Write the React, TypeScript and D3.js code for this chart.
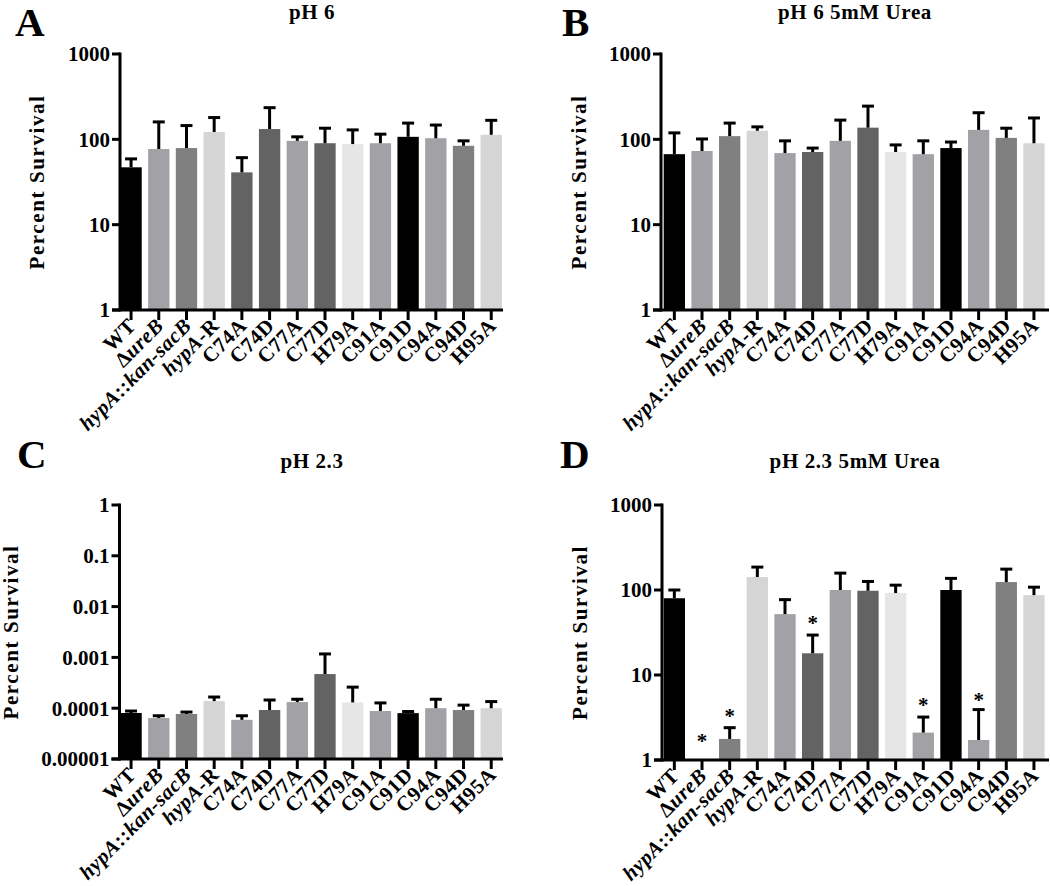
import React from "react";
import * as d3 from "d3";

// ---------- data ----------
const categories = [
  "WT", "ΔureB", "hypA::kan-sacB", "hypA-R", "C74A", "C74D", "C77A",
  "C77D", "H79A", "C91A", "C91D", "C94A", "C94D", "H95A",
];

// Panel A: pH 6
const meanA = [47, 77, 79, 122, 41, 132, 96, 90, 88, 90, 107, 103, 84, 113];
const semA = [12, 83, 66, 58, 20, 103, 11, 45, 41, 25, 48, 44, 12, 54];

// Panel B: pH 6 5mM Urea
const meanB = [67, 73, 109, 126, 69, 71, 96, 137, 71, 67, 79, 129, 104, 90];
const semB = [52, 28, 46, 14, 27, 8, 72, 108, 15, 29, 14, 76, 31, 88];

// Panel C: pH 2.3
const meanC = [8.05e-5, 6.4e-5, 7.7e-5, 1.38e-4, 5.9e-5, 9.2e-5, 1.32e-4, 4.7e-4, 1.3e-4, 8.8e-5, 8.0e-5, 1.0e-4, 9.2e-5, 1.0e-4];
const semC = [0.75e-5, 0.7e-5, 0.7e-5, 2.8e-5, 1.2e-5, 5.3e-5, 1.8e-5, 7.0e-4, 1.3e-4, 3.9e-5, 0.6e-5, 5.0e-5, 2.3e-5, 3.5e-5];

// Panel D: pH 2.3 5mM Urea
const meanD = [80, null, 1.77, 142, 52, 18, 100, 98, 92, 2.1, 100, 1.72, 124, 87];
const semD = [20, null, 0.63, 44, 25, 11.5, 58, 28, 22, 1.1, 37, 2.2, 52, 21];
// significance stars (data-unit height at which the star sits)
const starD = [null, 1.92, 3.77, null, null, 46.9, null, null, null, 5.08, null, 5.8, null, null];

const ticksLin = [1, 10, 100, 1000];
const tickLabelsLin = ["1", "10", "100", "1000"];
const ticksAcid = [1e-5, 1e-4, 1e-3, 1e-2, 1e-1, 1];
const tickLabelsAcid = ["0.00001", "0.0001", "0.001", "0.01", "0.1", "1"];

const fillsStd = ["#000000", "#a2a2a6", "#808080", "#d5d5d5", "#a2a2a6", "#636363", "#a2a2a6", "#636363", "#e6e6e6", "#a2a2a6", "#000000", "#a2a2a6", "#808080", "#d5d5d5"];
const fillsA = ["#000000", "#a2a2a6", "#808080", "#d5d5d5", "#636363", "#636363", "#a2a2a6", "#636363", "#e6e6e6", "#a2a2a6", "#000000", "#a2a2a6", "#808080", "#d5d5d5"];

const FONT = "'Liberation Serif', 'Times New Roman', serif";

type PanelCfg = {
  letter: string;
  title: string;
  means: (number | null)[];
  sems: (number | null)[];
  stars?: (number | null)[];
  fills: string[];
  domain: [number, number];
  ticks: number[];
  tickLabels: string[];
  axisX: number;
  top: number;
  base: number;
  xEnd: number;
  band: [number, number];
  titleX: number;
  titleY: number;
  letterX: number;
  letterY: number;
  ylabX: number;
};

const panels: PanelCfg[] = [
  {
    letter: "A", title: "pH 6", means: meanA, sems: semA, fills: fillsA,
    domain: [1, 1000], ticks: ticksLin, tickLabels: tickLabelsLin,
    axisX: 120, top: 54, base: 310, xEnd: 503, band: [120.4, 501.9],
    titleX: 312, titleY: 19, letterX: 15, letterY: 36, ylabX: 44,
  },
  {
    letter: "B", title: "pH 6 5mM Urea", means: meanB, sems: semB, fills: fillsStd,
    domain: [1, 1000], ticks: ticksLin, tickLabels: tickLabelsLin,
    axisX: 661, top: 54, base: 310, xEnd: 1049, band: [663.7, 1044.6],
    titleX: 855, titleY: 19, letterX: 562, letterY: 36, ylabX: 586,
  },
  {
    letter: "C", title: "pH 2.3", means: meanC, sems: semC, fills: fillsStd,
    domain: [1e-5, 1], ticks: ticksAcid, tickLabels: tickLabelsAcid,
    axisX: 119.5, top: 505, base: 759, xEnd: 503, band: [120.4, 501.9],
    titleX: 312, titleY: 468, letterX: 17, letterY: 468, ylabX: 18,
  },
  {
    letter: "D", title: "pH 2.3 5mM Urea", means: meanD, sems: semD, stars: starD, fills: fillsStd,
    domain: [1, 1000], ticks: ticksLin, tickLabels: tickLabelsLin,
    axisX: 662, top: 505, base: 760, xEnd: 1049, band: [663.7, 1044.6],
    titleX: 855, titleY: 468, letterX: 560, letterY: 468, ylabX: 587,
  },
];

function CatLabel({ name }: { name: string }) {
  if (name === "ΔureB") {
    return (<>Δ<tspan fontStyle="italic">ureB</tspan></>);
  }
  if (name === "hypA::kan-sacB") {
    return (<><tspan fontStyle="italic">hypA</tspan>::<tspan fontStyle="italic">kan-sacB</tspan></>);
  }
  if (name === "hypA-R") {
    return (<><tspan fontStyle="italic">hypA</tspan>-R</>);
  }
  return <>{name}</>;
}

function Panel({ p }: { p: PanelCfg }) {
  const y = d3.scaleLog().domain(p.domain).range([p.base, p.top]);
  const x = d3.scaleBand<string>().domain(categories).range(p.band).paddingInner(0.23).paddingOuter(0);
  const bw = x.bandwidth();
  const capHalf = 6;
  const midY = (p.top + p.base) / 2;
  return (
    <g>
      <text x={p.letterX} y={p.letterY} fontSize={41} fontWeight="bold" fontFamily={FONT}>{p.letter}</text>
      <text x={p.titleX} y={p.titleY} fontSize={21} fontWeight="bold" fontFamily={FONT} textAnchor="middle" letterSpacing={0.6}>{p.title}</text>
      <text transform={`translate(${p.ylabX},${midY}) rotate(-90)`} fontSize={21} fontWeight="bold" fontFamily={FONT} textAnchor="middle" letterSpacing={1.6}>Percent Survival</text>

      {/* bars */}
      {categories.map((c, i) => {
        const m = p.means[i];
        if (m == null) return null;
        const x0 = x(c)!;
        return <rect key={"b" + c} x={x0} y={y(m)} width={bw} height={p.base - y(m)} fill={p.fills[i]} />;
      })}
      {/* error bars */}
      {categories.map((c, i) => {
        const m = p.means[i];
        const s = p.sems[i];
        if (m == null || s == null) return null;
        const cx = x(c)! + bw / 2;
        const yt = y(m + s);
        return (
          <g key={"e" + c} stroke="#000" strokeWidth={3}>
            <line x1={cx} x2={cx} y1={y(m)} y2={yt} />
            <line x1={cx - capHalf} x2={cx + capHalf} y1={yt} y2={yt} />
          </g>
        );
      })}
      {/* stars */}
      {p.stars && categories.map((c, i) => {
        const s = p.stars![i];
        if (s == null) return null;
        const cx = x(c)! + bw / 2;
        return <text key={"s" + c} x={cx} y={y(s) + 12} fontSize={21} fontWeight="bold" fontFamily={FONT} textAnchor="middle">*</text>;
      })}

      {/* axes */}
      <line x1={p.axisX} x2={p.axisX} y1={p.top - 1.5} y2={p.base + 1.5} stroke="#000" strokeWidth={3} />
      <line x1={p.axisX - 8} x2={p.xEnd} y1={p.base} y2={p.base} stroke="#000" strokeWidth={3} />
      {p.ticks.map((t, i) => (
        <g key={"t" + i}>
          <line x1={p.axisX - 8} x2={p.axisX} y1={y(t)} y2={y(t)} stroke="#000" strokeWidth={3} />
          <text x={p.axisX - 10} y={y(t)} dy="0.35em" fontSize={21} fontWeight="bold" fontFamily={FONT} textAnchor="end">{p.tickLabels[i]}</text>
        </g>
      ))}
      {categories.map((c) => {
        const cx = x(c)! + bw / 2;
        return (
          <g key={"x" + c}>
            <line x1={cx} x2={cx} y1={p.base} y2={p.base + 10} stroke="#000" strokeWidth={3} />
            <text transform={`translate(${cx + 6},${p.base + 17}) rotate(-45)`} fontSize={21} fontWeight="bold" fontFamily={FONT} textAnchor="end" letterSpacing={0.5}>
              <CatLabel name={c} />
            </text>
          </g>
        );
      })}
    </g>
  );
}

export default function App() {
  return (
    <svg width={1050} height={886} style={{ position: "absolute", left: 0, top: 0, background: "#fff" }}>
      <rect width={1050} height={886} fill="#fff" />
      {panels.map((p) => <Panel key={p.letter} p={p} />)}
    </svg>
  );
}
